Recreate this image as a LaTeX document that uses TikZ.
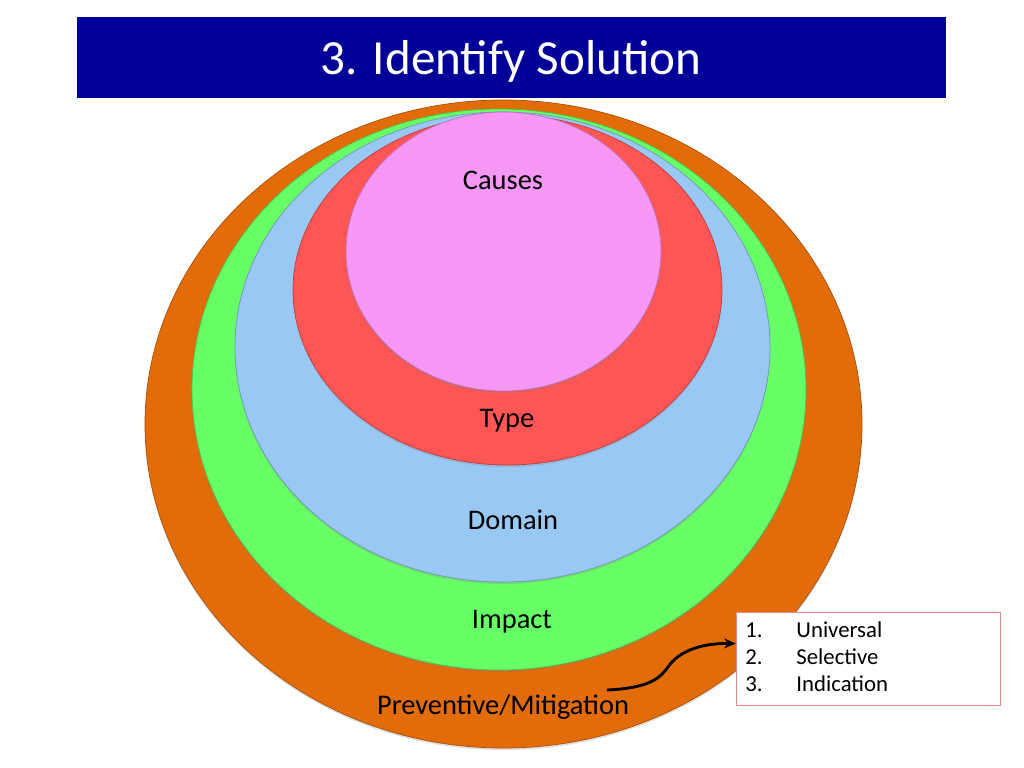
\documentclass[tikz,border=0pt]{standalone}
\usepackage{fontspec}
\setmainfont{Carlito}
\usetikzlibrary{shadows,arrows.meta}
\definecolor{titleblue}{HTML}{000099}
\definecolor{corange}{HTML}{E36C0A}
\definecolor{cgreen}{HTML}{66FF66}
\definecolor{cblue}{HTML}{99C8F4}
\definecolor{cred}{HTML}{FF5555}
\definecolor{cpink}{HTML}{F697F5}
\definecolor{boxred}{HTML}{E88A8A}
\tikzset{
  ring/.style={draw=#1!75!black, line width=0.5pt, fill=#1,
    drop shadow={opacity=0.25, shadow xshift=0pt, shadow yshift=-1.5pt}},
  lab/.style={font=\fontsize{20}{24}\selectfont, text=black, inner sep=0pt},
}
\begin{document}
\begin{tikzpicture}[x=0.703125pt, y=-0.703125pt]
\useasboundingbox (0,0) rectangle (1024,768);
\fill[white] (0,0) rectangle (1024,768);
% title
\fill[titleblue] (77,17) rectangle (946,98);
\node[font=\fontsize{34.5}{40}\selectfont, text=white, inner sep=0pt] (title) at (511,61) {3. Identify Solution};
% rings
\path[ring=corange] (503.5,424) ellipse [x radius=358.5, y radius=324];
\path[ring=cgreen] (499,389.5) ellipse [x radius=307, y radius=280.5];
\path[ring=cblue] (502.5,347) ellipse [x radius=267.5, y radius=235];
\path[ring=cred] (507.5,290) ellipse [x radius=214.5, y radius=175];
\path[ring=cpink] (503.5,251.5) ellipse [x radius=157.5, y radius=139.5];
% labels
\node[lab] (causes) at (503,180) {Causes};
\node[lab] (type) at (507,421) {Type};
\node[lab] (domain) at (513,520) {Domain};
\node[lab] (impact) at (512,622) {Impact};
\node[lab] (prev) at (503,707) {Preventive/Mitigation};
% list box
\node[draw=boxred, line width=0.6pt, fill=white, minimum width=185.6pt, minimum height=65.4pt, inner sep=0pt] (list) at (868,658.5) {};
\node[anchor=west, inner sep=0pt, font=\fontsize{16}{19}\selectfont, align=left] (items) at (745,659)
  {\begin{tabular}{@{}p{36pt}@{}l@{}}1. & Universal\\ 2. & Selective\\ 3. & Indication\end{tabular}};
% arrow
\coordinate (astart) at (607,690);
\coordinate (aend) at ([yshift=10.5pt]list.west);
\draw[line width=2pt, -{Stealth[length=8pt,width=7pt]}] (astart) .. controls (650,688) and (660,678) .. (668,667)
  .. controls (678,652) and (700,643) .. (aend);
\end{tikzpicture}
\end{document}
